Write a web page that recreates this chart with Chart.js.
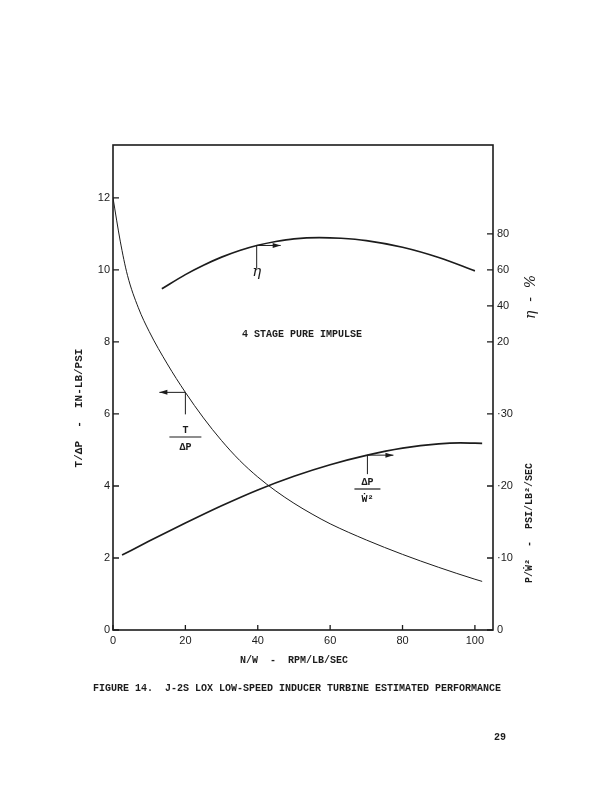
<!DOCTYPE html>
<html>
<head>
<meta charset="utf-8">
<script src="https://cdn.jsdelivr.net/npm/chart.js@4/dist/chart.umd.min.js"></script>
<style>
  html, body { margin: 0; padding: 0; background: #fff; }
  #wrap { position: relative; width: 613px; height: 793px; }
</style>
</head>
<body>
<div id="wrap"><canvas id="chart-1"></canvas></div>
<script>
// N/W - RPM/LB/SEC
const xTicks = [0, 20, 40, 60, 80, 100];
const leftTicks = [0, 2, 4, 6, 8, 10, 12];
const dpTicks = [0, 0.1, 0.2, 0.3];
const dpTickLabels = ["0", "·10", "·20", "·30"];
const etaTicks = [20, 40, 60, 80];

// T/dP - IN-LB/PSI
const tdpX = [0, 2, 4, 7, 10, 15, 20, 25, 30, 35, 40, 45, 50, 55, 60, 70, 80, 90, 100, 102];
const tdpY = [12.0, 10.8, 9.85, 8.95, 8.29, 7.39, 6.6, 5.89, 5.26, 4.71, 4.25, 3.86, 3.52, 3.22, 2.95, 2.5, 2.1, 1.74, 1.41, 1.35];

// efficiency, %
const etaX = [13.5, 20, 25, 30, 35, 40, 45, 50, 57, 63, 70, 80, 90, 100];
const etaY = [49.5, 57.4, 62.6, 67.1, 70.8, 73.7, 75.8, 77.3, 78.0, 77.6, 76.3, 72.6, 66.9, 59.5];

// dP/W^2 - PSI/LB^2/SEC
const dpwX = [2.5, 10, 20, 30, 40, 50, 60, 70, 80, 90, 96, 102];
const dpwY = [0.104, 0.1235, 0.1485, 0.1725, 0.1945, 0.2135, 0.2295, 0.2425, 0.2525, 0.2585, 0.2598, 0.2592];

const LEFT_MAX = 13.47;
const ink = "#1c1c1c";
const mono = "'Liberation Mono', 'DejaVu Sans Mono', monospace";
const sans = "'Liberation Sans', Arial, sans-serif";

function pts(xs, ys) {
  return xs.map((v, i) => ({ x: v, y: ys[i] }));
}
function fixTicks(values) {
  return function (scale) {
    scale.ticks = values.map((v) => ({ value: v }));
  };
}

const paperPlugin = {
  id: "paper",
  afterDraw: function (chart) {
    const { ctx, chartArea: { top, bottom, left, right }, scales } = chart;
    const x = scales.x, y = scales.y, y2 = scales.y2, ye = scales.yEta;
    ctx.save();
    ctx.strokeStyle = ink;
    ctx.fillStyle = ink;

    // frame
    ctx.lineWidth = 1.6;
    ctx.strokeRect(left, top, right - left, bottom - top);

    // inward tick marks
    ctx.lineWidth = 1.3;
    ctx.beginPath();
    xTicks.forEach((v) => {
      const px = x.getPixelForValue(v);
      ctx.moveTo(px, bottom);
      ctx.lineTo(px, bottom - 5);
    });
    leftTicks.forEach((v) => {
      const py = y.getPixelForValue(v);
      ctx.moveTo(left, py);
      ctx.lineTo(left + 6, py);
    });
    y2.ticks.forEach((t) => {
      const py = y2.getPixelForValue(t.value);
      ctx.moveTo(right, py);
      ctx.lineTo(right - 6, py);
    });
    ctx.stroke();

    // pointer arrows
    function pointer(px, py, down, dx) {
      ctx.lineWidth = 1;
      ctx.beginPath();
      ctx.moveTo(px, py);
      ctx.lineTo(px, py + down);
      ctx.moveTo(px, py);
      ctx.lineTo(px + dx, py);
      ctx.stroke();
      const s = Math.sign(dx);
      ctx.beginPath();
      ctx.moveTo(px + dx, py);
      ctx.lineTo(px + dx - s * 8, py - 2.5);
      ctx.lineTo(px + dx - s * 8, py + 2.5);
      ctx.closePath();
      ctx.fill();
    }
    pointer(x.getPixelForValue(20), y.getPixelForValue(6.6), 22, -26);
    pointer(x.getPixelForValue(39.7), ye.getPixelForValue(73.6), 23, 24);
    pointer(x.getPixelForValue(70.3), y2.getPixelForValue(0.2428), 19, 26);

    // fraction labels
    function fraction(cx, cy, numTxt, denTxt, w) {
      ctx.font = "bold 10px " + mono;
      ctx.textAlign = "center";
      ctx.textBaseline = "middle";
      ctx.fillText(numTxt, cx, cy - 7);
      ctx.fillText(denTxt, cx, cy + 10);
      ctx.lineWidth = 1.2;
      ctx.beginPath();
      ctx.moveTo(cx - w / 2, cy);
      ctx.lineTo(cx + w / 2, cy);
      ctx.stroke();
    }
    fraction(x.getPixelForValue(20), 437, "T", "ΔP", 32);
    fraction(x.getPixelForValue(70.3), 489, "ΔP", "Ẇ²", 26);

    // handwritten eta
    ctx.font = "italic 15px 'DejaVu Serif', serif";
    ctx.textAlign = "center";
    ctx.textBaseline = "middle";
    ctx.fillText("η", x.getPixelForValue(39.7), 272);

    // note
    ctx.font = "bold 10px " + mono;
    ctx.fillText("4 STAGE PURE IMPULSE", 302, 334);

    // axis titles
    ctx.font = "bold 10px " + mono;
    ctx.fillText("N/W  -  RPM/LB/SEC", 294, 660);

    function vtext(txt, cx, cy, font) {
      ctx.save();
      ctx.translate(cx, cy);
      ctx.rotate(-Math.PI / 2);
      ctx.font = font;
      ctx.textAlign = "center";
      ctx.textBaseline = "middle";
      ctx.fillText(txt, 0, 0);
      ctx.restore();
    }
    vtext("T/ΔP  -  IN-LB/PSI", 79, 408, "bold 11px " + mono);
    vtext("P/Ẇ²  -  PSI/LB²/SEC", 529, 523, "bold 10px " + mono);
    vtext("η  -  %", 531, 297, "italic 14px 'DejaVu Serif', serif");

    // caption and page number
    ctx.font = "bold 10px " + mono;
    ctx.textAlign = "left";
    ctx.fillText("FIGURE 14.  J-2S LOX LOW-SPEED INDUCER TURBINE ESTIMATED PERFORMANCE", 93, 688);
    ctx.fillText("29", 494, 737);
    ctx.restore();
  },
};

const canvas1 = document.getElementById("chart-1");
const ctx1 = canvas1.getContext("2d");
const chart1 = new Chart(ctx1, {
  type: "line",
  data: {
    datasets: [
      {
        label: "T/ΔP",
        data: pts(tdpX, tdpY),
        yAxisID: "y",
        borderColor: ink,
        borderWidth: 1,
        pointRadius: 0,
        cubicInterpolationMode: "monotone",
      },
      {
        label: "η",
        data: pts(etaX, etaY),
        yAxisID: "yEta",
        borderColor: ink,
        borderWidth: 1.7,
        pointRadius: 0,
        cubicInterpolationMode: "monotone",
      },
      {
        label: "ΔP/W²",
        data: pts(dpwX, dpwY),
        yAxisID: "y2",
        borderColor: ink,
        borderWidth: 1.7,
        pointRadius: 0,
        cubicInterpolationMode: "monotone",
      },
    ],
  },
  plugins: [paperPlugin],
  options: {
    responsive: true,
    maintainAspectRatio: false,
    animation: false,
    layout: { padding: { top: 145, bottom: 123, left: 0, right: 0 } },
    plugins: {
      legend: { display: false },
      tooltip: { enabled: false },
    },
    scales: {
      x: {
        type: "linear",
        min: 0,
        max: 105,
        afterBuildTicks: fixTicks(xTicks),
        afterFit: function (scale) {
          scale.height = 40;
        },
        grid: { display: false, drawTicks: false },
        border: { display: false },
        ticks: {
          padding: 4,
          color: ink,
          font: { family: sans, size: 11 },
        },
      },
      y: {
        position: "left",
        min: 0,
        max: LEFT_MAX,
        afterBuildTicks: fixTicks(leftTicks),
        afterFit: function (scale) {
          scale.width = 113;
        },
        grid: { display: false, drawTicks: false },
        border: { display: false },
        ticks: {
          padding: 3,
          color: ink,
          font: { family: sans, size: 11 },
        },
      },
      y2: {
        position: "right",
        min: 0,
        max: LEFT_MAX / 20,
        afterBuildTicks: function (scale) {
          // efficiency labels share this side: 20% sits at 8 on the left axis
          const etaPos = etaTicks.map((e) => (8 + (e - 20) / 20) / 20);
          scale.ticks = dpTicks.concat(etaPos).map((v) => ({ value: v }));
        },
        afterFit: function (scale) {
          scale.width = 120;
        },
        grid: { display: false, drawTicks: false },
        border: { display: false },
        ticks: {
          padding: 4,
          color: ink,
          font: { family: sans, size: 11 },
          callback: function (value, index) {
            if (index < dpTickLabels.length) return dpTickLabels[index];
            return String(etaTicks[index - dpTickLabels.length]);
          },
        },
      },
      yEta: {
        display: false,
        position: "right",
        min: 20 - 8 * 20,
        max: 20 + (LEFT_MAX - 8) * 20,
      },
    },
  },
});
</script>
</body>
</html>
